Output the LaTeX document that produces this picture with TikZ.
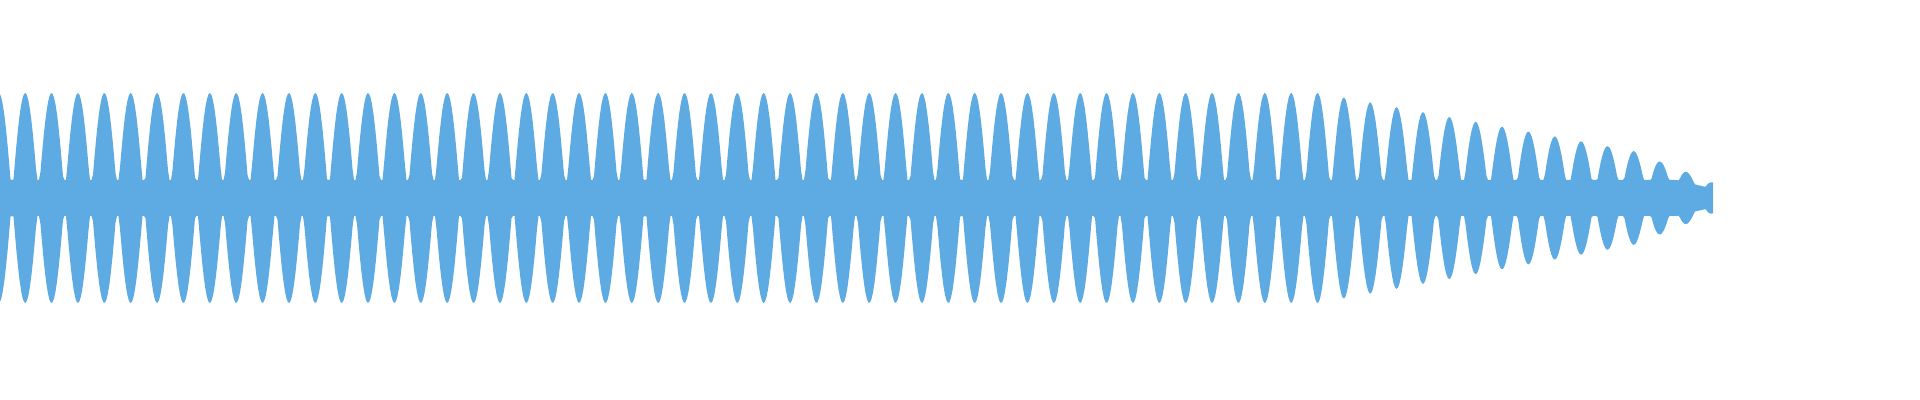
\documentclass[tikz,border=0pt]{standalone}
\definecolor{wavecol}{RGB}{93,171,226}
\begin{document}
\begin{tikzpicture}[x=0.5pt,y=0.5pt,
  wave/.style={fill=wavecol,draw=none},
  declare function={
    amp(\t)=(\t<1320)*105+(\t>=1320)*(\t<1634)*(105-0.185*(\t-1320))+(\t>=1634)*(47-0.4*(\t-1634));
    f(\t)=max(amp(\t)*abs(sin(6.82464*(\t-12))),min(18,0.6*amp(\t)));
  }]
\useasboundingbox (0,0) rectangle (1920,400);
\fill[wave] plot[domain=0:1713,samples=1143] (\x,{202+f(\x)}) -- plot[domain=1713:0,samples=1143] (\x,{202-f(\x)}) -- cycle;
\end{tikzpicture}
\end{document}
